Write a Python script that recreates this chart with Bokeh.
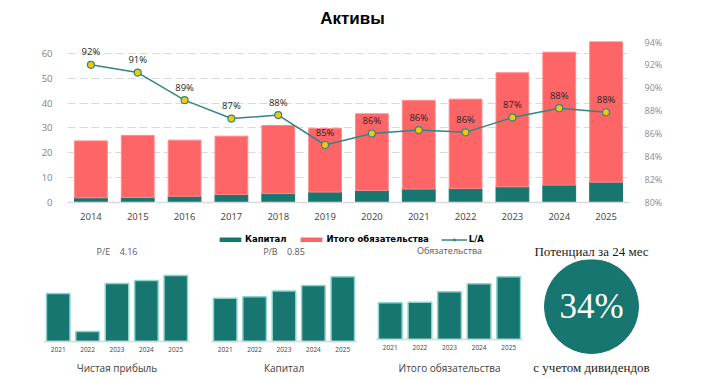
from bokeh.plotting import figure
from bokeh.models import (ColumnDataSource, FactorRange, Range1d, LinearAxis, FixedTicker,
                          NumeralTickFormatter, Legend, LegendItem, Span)
from bokeh.layouts import column, row
from bokeh.embed import file_html
from bokeh.resources import INLINE
from bokeh.core.properties import value

# ---------------- data ----------------
title_text = "Активы"
years = ["2014", "2015", "2016", "2017", "2018", "2019",
         "2020", "2021", "2022", "2023", "2024", "2025"]
capital = [1.9, 2.0, 2.5, 3.2, 3.6, 4.2, 4.8, 5.4, 5.6, 6.3, 7.0, 8.2]
liabilities = [22.9, 25.0, 22.6, 23.5, 27.4, 25.6, 30.9, 35.7, 36.0, 45.9, 53.5, 56.6]
la_ratio = [91.97, 91.3, 88.9, 87.3, 87.6, 85.0, 86.0, 86.3, 86.1, 87.4, 88.2, 87.85]  # %

small_years = ["2021", "2022", "2023", "2024", "2025"]
net_profit = [4.8, 1.0, 5.8, 6.1, 6.6]
small_capital = [5.4, 5.6, 6.3, 7.0, 8.1]
small_liabilities = [35.3, 35.9, 45.9, 53.6, 60.3]

pe_text = "P/E\u00a0\u00a0\u00a0\u00a04.16"
pb_text = "P/B\u00a0\u00a0\u00a0\u00a00.85"
liab_header = "Обязательства"
potential = 34
potential_header = "Потенциал за 24 мес"
potential_footer = "с учетом дивидендов"

left_ticks = [0, 10, 20, 30, 40, 50, 60]
right_ticks = [0.80, 0.82, 0.84, 0.86, 0.88, 0.90, 0.92, 0.94]

# ---------------- styles ----------------
TEAL = "#17766f"
RED = "#fd6567"
LINE = "#2f8782"
YELLOW = "#f2c80f"
SANS = "Open Sans"
SERIF = "Liberation Serif"
PAGE_W = 685


def blank(width, height, x_end, y_end):
    f = figure(x_range=Range1d(0, x_end), y_range=Range1d(0, y_end), width=width,
               height=height, min_border=0, x_axis_location=None, y_axis_location=None,
               title=None, output_backend="svg", toolbar_location=None)
    f.outline_line_color = None
    f.grid.grid_line_color = None
    return f


# ---------------- title strip ----------------
TITLE_H = 35
top = blank(PAGE_W, TITLE_H, PAGE_W, TITLE_H)
top.text(x=[352], y=[TITLE_H - 18], text=[title_text], text_align="center",
         text_baseline="middle", text_font=value("Liberation Sans"), text_font_size="17px",
         text_font_style="bold", text_color="#000000")

# ---------------- main chart ----------------
src = ColumnDataSource(dict(
    year=years, capital=capital, liab=liabilities,
    la=[v / 100 for v in la_ratio],
    la_lbl=[f"{round(v):d}%" for v in la_ratio],
))

p = figure(x_range=FactorRange(factors=years, range_padding=0),
           y_range=Range1d(0, 64.8),
           width=PAGE_W, height=226 - TITLE_H, title=None,
           min_border_left=67, min_border_right=56, min_border_top=6, min_border_bottom=24,
           output_backend="svg", toolbar_location=None)
p.extra_y_ranges = {"pct": Range1d(0.80, 0.94)}

p.outline_line_color = None
p.xgrid.grid_line_color = None
p.ygrid.ticker = FixedTicker(ticks=left_ticks)
p.ygrid.grid_line_color = "#d9d9d9"
p.ygrid.grid_line_dash = "8 4"
p.ygrid.grid_line_width = 1

p.yaxis.ticker = FixedTicker(ticks=left_ticks)
p.yaxis.axis_line_color = None
p.yaxis.major_tick_line_color = None
p.yaxis.minor_tick_line_color = None
p.yaxis.major_label_text_font = SANS
p.yaxis.major_label_text_font_size = "9.5px"
p.yaxis.major_label_text_color = "#7f7f7f"
p.yaxis.major_label_standoff = 9

p.xaxis.axis_line_color = "#d9d9d9"
p.xaxis.axis_line_width = 1.5
p.xaxis.major_tick_line_color = None
p.xaxis.major_label_text_font = SANS
p.xaxis.major_label_text_font_size = "9.5px"
p.xaxis.major_label_text_color = "#404040"
p.xaxis.major_label_standoff = 4

rax = LinearAxis(y_range_name="pct", ticker=FixedTicker(ticks=right_ticks),
                 formatter=NumeralTickFormatter(format="0%"))
rax.axis_line_color = None
rax.major_tick_line_color = None
rax.minor_tick_line_color = None
rax.major_label_text_font = SANS
rax.major_label_text_font_size = "9px"
rax.major_label_text_color = "#8c8c8c"
rax.major_label_standoff = 9
p.add_layout(rax, "right")

p.vbar_stack(["capital", "liab"], x="year", width=0.7, source=src,
             fill_color=[TEAL, RED], line_color=[TEAL, "#ff8a8a"], line_width=1)
p.line(x="year", y="la", y_range_name="pct", source=src, line_color=LINE, line_width=1.5)
p.scatter(x="year", y="la", y_range_name="pct", source=src, marker="circle", size=7,
          fill_color=YELLOW, line_color=LINE, line_width=1.2)
p.text(x="year", y="la", text="la_lbl", y_range_name="pct", source=src,
       text_align="center", text_baseline="middle", y_offset=-13,
       text_font=value(SANS), text_font_size="9.5px", text_color="#262626")

# ---------------- legend + headers strip ----------------
STRIP_TOP, STRIP_BOTTOM = 226, 259
STRIP_H = STRIP_BOTTOM - STRIP_TOP
strip = blank(PAGE_W, STRIP_H, PAGE_W, STRIP_H)
# legend proxies (placed outside the visible range)
g_cap = strip.vbar(x=[-100], top=[-100], bottom=[-101], width=1, fill_color=TEAL, line_color=TEAL)
g_liab = strip.vbar(x=[-100], top=[-100], bottom=[-101], width=1, fill_color=RED, line_color=RED)
g_line = strip.line(x=[-100, -99], y=[-100, -100], line_color=LINE, line_width=1.5)
g_pts = strip.scatter(x=[-100], y=[-100], marker="circle", size=7, fill_color=YELLOW,
                      line_color=LINE, line_width=1.2)
legend = Legend(items=[LegendItem(label="Капитал", renderers=[g_cap]),
                       LegendItem(label="Итого обязательства", renderers=[g_liab]),
                       LegendItem(label="L/A", renderers=[g_line, g_pts])],
                orientation="horizontal", location=(217, STRIP_BOTTOM - 244),
                glyph_width=26, glyph_height=5, label_standoff=2, spacing=12,
                label_height=10, padding=2, margin=0, border_line_color=None,
                background_fill_alpha=0,
                label_text_font="DejaVu Sans", label_text_font_size="8.5px",
                label_text_font_style="bold", label_text_color="#000000")
strip.add_layout(legend, "center")

hdr = ColumnDataSource(dict(
    x=[116.5, 283.5, 449],
    y=[STRIP_BOTTOM - 251, STRIP_BOTTOM - 251, STRIP_BOTTOM - 250],
    text=[pe_text, pb_text, liab_header],
))
strip.text(x="x", y="y", text="text", source=hdr, text_align="center",
           text_baseline="middle", text_font=value(SANS), text_font_size="9px",
           text_color="#595959")
strip.text(x=[591], y=[STRIP_BOTTOM - 251], text=[potential_header], text_align="center",
           text_baseline="middle", text_font=value(SERIF), text_font_size="13px",
           text_color="#1a1a1a")

# ---------------- small charts ----------------
ROW_TOP, ROW_BOTTOM = STRIP_BOTTOM, 375
ROW_H = ROW_BOTTOM - ROW_TOP


def small_chart(vals, px_per_unit, base_px, footer, width, left, right, footer_px):
    y0 = -(ROW_BOTTOM - base_px) / px_per_unit
    y1 = (base_px - ROW_TOP) / px_per_unit
    f = figure(x_range=FactorRange(factors=small_years, range_padding=0),
               y_range=Range1d(y0, y1), width=width, height=ROW_H,
               min_border_left=left, min_border_right=right, min_border_top=0,
               min_border_bottom=0, x_axis_location=None, y_axis_location=None, title=None,
               output_backend="svg", toolbar_location=None)
    f.outline_line_color = None
    f.grid.grid_line_color = None
    f.add_layout(Span(location=0, dimension="width", line_color="#d9d9d9", line_width=1.5))
    f.vbar(x=small_years, top=vals, width=0.8, fill_color=TEAL,
           line_color="#8fd4cc", line_width=1.5)
    f.text(x=small_years, y=[0] * len(small_years), text=small_years, y_offset=8,
           text_align="center", text_baseline="middle", text_font=value(SANS),
           text_font_size="6.5px", text_color="#404040")
    mid = small_years[len(small_years) // 2]
    f.text(x=[mid], y=[0], text=[footer], y_offset=footer_px - base_px,
           text_align="center", text_baseline="middle", text_font=value(SANS),
           text_font_size="10px", text_color="#404040")
    return f


fa = small_chart(net_profit, 10, 341, "Чистая прибыль", 200, 43, 10, 367)
fb = small_chart(small_capital, 8, 341, "Капитал", 165, 10, 8, 367)
fc = small_chart(small_liabilities, 1.04, 339, "Итого обязательства", 165, 10, 7, 367)

# ---------------- potential circle ----------------
FD_W = PAGE_W - 530
fd = blank(FD_W, ROW_H, FD_W, ROW_H)
cx, cy = 61, ROW_BOTTOM - 306
fd.scatter(x=[cx], y=[cy], marker="circle", size=94, fill_color=TEAL, line_color=TEAL)
fd.text(x=[cx], y=[cy], text=[f"{potential}%"], text_align="center", text_baseline="middle",
        text_font=value(SERIF), text_font_size="35px", text_color="#ffffff")
fd.text(x=[cx], y=[ROW_BOTTOM - 367], text=[potential_footer], text_align="center",
        text_baseline="middle", text_font=value(SERIF),
        text_font_size="13px", text_color="#1a1a1a")

layout = column(row(top), p, row(strip), row(fa, fb, fc, fd))

open("out.html", "w").write(file_html(layout, INLINE))
